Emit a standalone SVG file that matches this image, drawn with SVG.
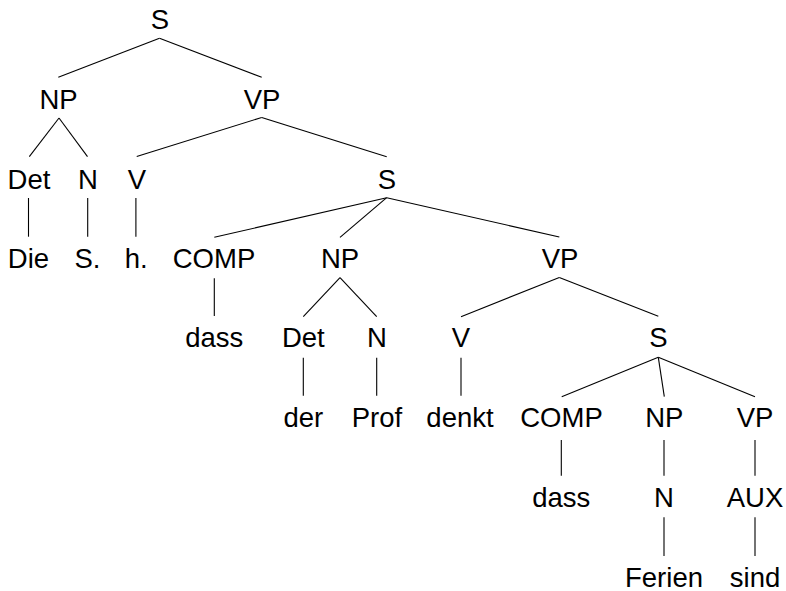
<svg xmlns="http://www.w3.org/2000/svg" width="786" height="591" viewBox="0 0 786 591">
<style>
text{font-family:"Liberation Sans",Arial,sans-serif;font-size:27.5px;fill:#000;text-anchor:middle}
.e line{stroke:#000;stroke-width:1.1}
</style>
<rect width="786" height="591" fill="#fff"/>
<g id="connectors" class="e">
<line x1="159.5" y1="38.3" x2="58.3" y2="77.3"/>
<line x1="159.5" y1="38.3" x2="261.7" y2="77.3"/>
<line x1="59" y1="118" x2="29.3" y2="156.7"/>
<line x1="59" y1="118" x2="87.5" y2="156.7"/>
<line x1="261.7" y1="117.5" x2="136.7" y2="156.5"/>
<line x1="261.7" y1="117.5" x2="386.7" y2="156.7"/>
<line x1="28.5" y1="198" x2="28.5" y2="236.7"/>
<line x1="87.7" y1="198" x2="87.7" y2="236.7"/>
<line x1="135.9" y1="198" x2="135.9" y2="236.7"/>
<line x1="386.7" y1="197.7" x2="214.3" y2="237.3"/>
<line x1="386.7" y1="197.7" x2="340" y2="237.3"/>
<line x1="386.7" y1="197.7" x2="559.3" y2="237"/>
<line x1="214.3" y1="278.3" x2="214.3" y2="316"/>
<line x1="340" y1="277.7" x2="303.3" y2="316.7"/>
<line x1="340" y1="277.7" x2="376.7" y2="316.7"/>
<line x1="559.3" y1="277.5" x2="461" y2="316.7"/>
<line x1="559.3" y1="277.5" x2="658.3" y2="316.3"/>
<line x1="303.3" y1="357.7" x2="303.3" y2="395.7"/>
<line x1="376.7" y1="357.7" x2="376.7" y2="395.7"/>
<line x1="461" y1="357.7" x2="461" y2="395.7"/>
<line x1="658.3" y1="357.3" x2="561.7" y2="396.7"/>
<line x1="658.3" y1="357.3" x2="664.3" y2="396.7"/>
<line x1="658.3" y1="357.3" x2="755" y2="396.7"/>
<line x1="561.3" y1="440" x2="561.3" y2="475.7"/>
<line x1="664" y1="440" x2="664" y2="475.7"/>
<line x1="755" y1="440" x2="755" y2="475.7"/>
<line x1="664" y1="517.3" x2="664" y2="556"/>
<line x1="755" y1="517.3" x2="755" y2="556"/>
</g>
<g id="n-S0"><text x="160" y="28.5">S</text></g>
<g id="n-NP1"><text x="58.5" y="109">NP</text></g>
<g id="n-VP1"><text x="262" y="109">VP</text></g>
<g id="n-Det1"><text x="29" y="188.5">Det</text></g>
<g id="n-N1"><text x="88" y="188.5">N</text></g>
<g id="n-V1"><text x="137" y="188.5">V</text></g>
<g id="n-S1"><text x="387" y="188.5">S</text></g>
<g id="n-Die"><text x="28.5" y="268">Die</text></g>
<g id="n-S."><text x="87.5" y="268">S.</text></g>
<g id="n-h."><text x="136.3" y="268">h.</text></g>
<g id="n-COMP1"><text x="214" y="268">COMP</text></g>
<g id="n-NP2"><text x="340" y="268">NP</text></g>
<g id="n-VP2"><text x="560" y="268">VP</text></g>
<g id="n-dass1"><text x="214.3" y="347">dass</text></g>
<g id="n-Det2"><text x="303.3" y="347">Det</text></g>
<g id="n-N2"><text x="377" y="347">N</text></g>
<g id="n-V2"><text x="461" y="347">V</text></g>
<g id="n-S2"><text x="658.3" y="347">S</text></g>
<g id="n-der"><text x="303.3" y="427">der</text></g>
<g id="n-Prof"><text x="377" y="427">Prof</text></g>
<g id="n-denkt"><text x="460" y="427">denkt</text></g>
<g id="n-COMP2"><text x="561.5" y="427">COMP</text></g>
<g id="n-NP3"><text x="664.3" y="427">NP</text></g>
<g id="n-VP3"><text x="755" y="427">VP</text></g>
<g id="n-dass2"><text x="561.3" y="507">dass</text></g>
<g id="n-N3"><text x="664" y="507">N</text></g>
<g id="n-AUX"><text x="755" y="507">AUX</text></g>
<g id="n-Ferien"><text x="664" y="586.5">Ferien</text></g>
<g id="n-sind"><text x="755" y="586.5">sind</text></g>
</svg>
